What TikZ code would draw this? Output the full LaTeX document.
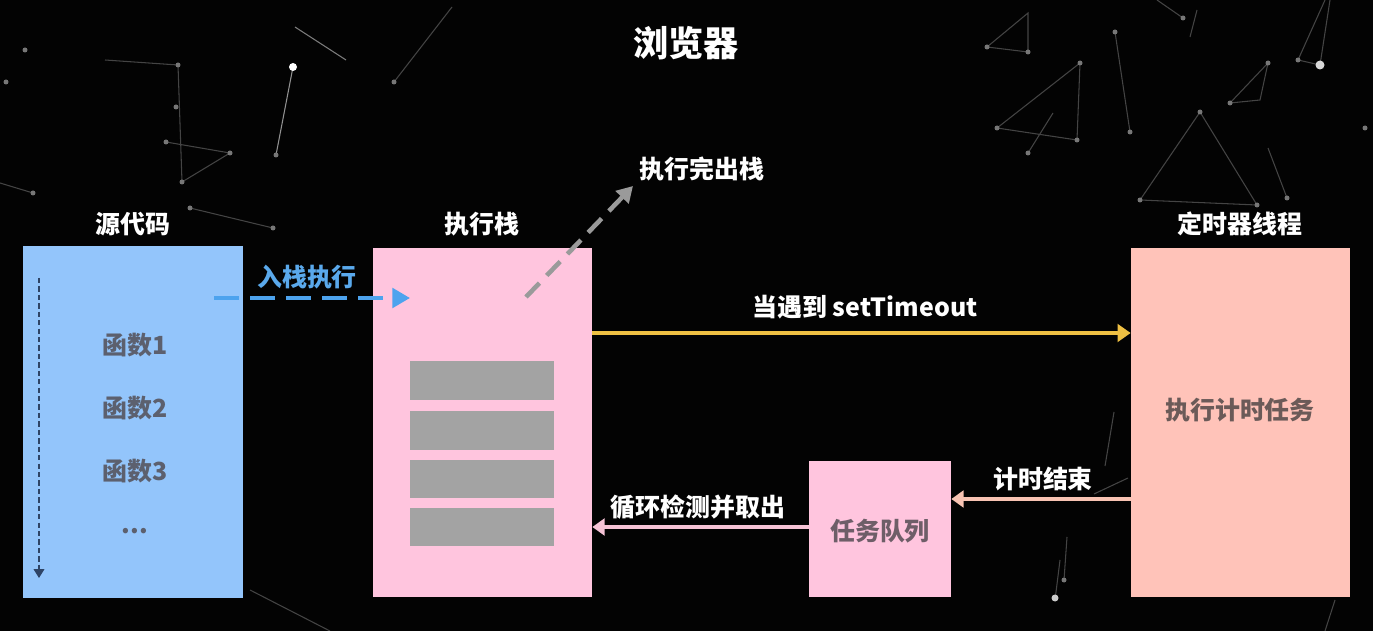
\documentclass[tikz,border=0pt]{standalone}
\usepackage{fontspec}
\setmainfont{Noto Sans CJK SC}
\usetikzlibrary{arrows.meta,calc}
\definecolor{bgblack}{HTML}{030303}
\definecolor{srcblue}{HTML}{93C5FB}
\definecolor{stackpink}{HTML}{FFC5DE}
\definecolor{timersalmon}{HTML}{FFC3B9}
\definecolor{bargray}{HTML}{A3A3A3}
\definecolor{fngray}{HTML}{5C606E}
\definecolor{qgray}{HTML}{6E5E68}
\definecolor{tgray}{HTML}{6B5A58}
\definecolor{inblue}{HTML}{4DA3EE}
\definecolor{inbluetxt}{HTML}{5AA9EC}
\definecolor{outgray}{HTML}{9A9A9A}
\definecolor{yel}{HTML}{EFC043}
\definecolor{peach}{HTML}{F8C3B3}
\definecolor{pinkarr}{HTML}{F6C3D6}
\definecolor{navy}{HTML}{2E4466}
\definecolor{star}{HTML}{444444}
\definecolor{stardot}{HTML}{777777}
\tikzset{
  block/.style={draw=none, inner sep=0pt},
  lbl/.style={text=white, inner sep=0pt, font=\bfseries\fontsize{14.2}{17}\selectfont},
  intxt/.style={inner sep=0pt, font=\bfseries\fontsize{14.2}{17}\selectfont},
  ttl/.style={text=white, inner sep=0pt, font=\bfseries\fontsize{20}{24}\selectfont},
  sline/.style={draw=star, line width=0.6pt},
  sdot/.style={fill=stardot, draw=none},
}
\begin{document}
\begin{tikzpicture}[x=0.02cm,y=-0.02cm]
\useasboundingbox (0,0) rectangle (1373,631);
\fill[bgblack] (0,0) rectangle (1373,631);
% background constellations
\draw[sline] (105,60) -- (178,65) -- (182,182) -- (230,153) -- (166,142);
\draw[sline, draw=stardot!80] (293,67) -- (276,155);
\draw[sline] (394,82) -- (452,7);
\draw[sline] (0,183) -- (33,193);
\draw[sline] (190,208) -- (273,228);
\draw[sline, draw=star!70] (295,27) -- (346,60);
\draw[sline] (1028,13) -- (987,47) -- (1028,52) -- cycle;
\draw[sline] (1080,63) -- (997,128) -- (1077,140) -- cycle;
\draw[sline] (1053,113) -- (1028,153);
\draw[sline] (1115,32) -- (1130,132);
\draw[sline] (1157,0) -- (1183,18);
\draw[sline] (1190,37) -- (1197,10);
\draw[sline] (1200,112) -- (1140,200) -- (1257,205) -- cycle;
\draw[sline] (1268,63) -- (1230,103) -- (1260,100) -- cycle;
\draw[sline] (1268,148) -- (1287,198);
\draw[sline] (1325,0) -- (1298,60) -- (1320,65) -- (1330,0);
\draw[sline] (1060,560) -- (1055,600);
\draw[sline] (1114,412) -- (1105,466);
\draw[sline] (1094,494) -- (1128,478);
\draw[sline] (1067,537) -- (1064,580);
\draw[sline] (250,590) -- (330,631);
\draw[sline] (1335,600) -- (1325,631);
\foreach \p in {(178,65),(182,182),(230,153),(166,142),(176,107),(25,50),(6,82),(276,155),(33,193),(190,208),(273,228),(394,82),
  (987,47),(1028,52),(1080,63),(997,128),(1077,140),(1028,153),(1115,32),(1130,132),(1183,18),(1200,112),(1140,200),(1257,205),
  (1230,103),(1268,63),(1287,198),(1298,60),(1365,128),(1064,580)}
  \fill[sdot] \p circle (2.5);
\fill[white] (293,67) circle (4);
\fill[white!85!black] (1320,65) circle (4.5);
\fill[white!80!black] (1055,598) circle (3.5);

% title
\node[ttl] (title) at (686,43) {浏览器};

% boxes
\node[block, fill=srcblue, minimum width=4.4cm, minimum height=7.04cm] (src) at (133,422) {};
\node[block, fill=stackpink, minimum width=4.38cm, minimum height=6.98cm] (stack) at (482.5,422.5) {};
\node[block, fill=timersalmon, minimum width=4.38cm, minimum height=6.98cm] (timer) at (1240.5,422.5) {};
\node[block, fill=stackpink, minimum width=2.84cm, minimum height=2.72cm] (queue) at (880,529) {};
\node[block, fill=bargray, minimum width=2.88cm, minimum height=0.78cm] (bar1) at (482,380.5) {};
\node[block, fill=bargray, minimum width=2.88cm, minimum height=0.78cm] (bar2) at (482,430.5) {};
\node[block, fill=bargray, minimum width=2.88cm, minimum height=0.76cm] (bar3) at (482,479) {};
\node[block, fill=bargray, minimum width=2.88cm, minimum height=0.76cm] (bar4) at (482,527) {};

% box labels
\node[lbl] (srcl) at (133,224) {源代码};
\node[lbl] (stackl) at (482,224) {执行栈};
\node[lbl] (timerl) at (1240,224) {定时器线程};

% inner texts
\node[intxt, text=fngray] (f1) at (135,345) {函数1};
\node[intxt, text=fngray] (f2) at (135,408) {函数2};
\node[intxt, text=fngray] (f3) at (135,471) {函数3};
\node[intxt, text=fngray, anchor=base] (f4) at (135,533) {...};
\node[intxt, text=tgray] (tt) at (1240,410) {执行计时任务};
\node[intxt, text=qgray] (qt) at (880,531) {任务队列};

% vertical order arrow
\coordinate (vs) at (39,278);
\coordinate (ve) at (39,578);
\draw[navy, line width=0.9pt, dash pattern=on 3pt off 1.8pt, -{Triangle[length=5pt,width=6pt]}] (vs) -- (ve);

% push arrow
\coordinate (ins) at (214,298);
\coordinate (ine) at (410,298);
\draw[inblue, line width=2.3pt, dash pattern=on 14pt off 6.5pt, -{Triangle[length=10pt,width=11pt]}] (ins) -- (ine);
\node[lbl, text=inbluetxt] (inl) at (307,277) {入栈执行};

% pop arrow
\coordinate (outs) at (526,297);
\coordinate (oute) at (633,186);
\draw[outgray, line width=2.6pt, dash pattern=on 11pt off 6pt, -{Triangle[length=9pt,width=10pt]}] (outs) -- (oute);
\node[lbl] (outl) at (702,169) {执行完出栈};

% setTimeout arrow
\coordinate (ly) at (0,333);
\draw[yel, line width=2pt, -{Triangle[length=7.5pt,width=10pt]}] (stack.east |- ly) -- (timer.west |- ly);
\node[lbl] (stl) at (865,307) {当遇到 setTimeout};

% timer end arrow
\coordinate (lp) at (0,499);
\draw[peach, line width=1.8pt, -{Triangle[length=7pt,width=9.5pt]}] (timer.west |- lp) -- (queue.east |- lp);
\node[lbl] (tel) at (1043,479) {计时结束};

% loop arrow
\coordinate (lq) at (0,527);
\draw[pinkarr, line width=1.8pt, -{Triangle[length=7pt,width=9.5pt]}] (queue.west |- lq) -- (stack.east |- lq);
\node[lbl] (lpl) at (698,507) {循环检测并取出};
\end{tikzpicture}
\end{document}
